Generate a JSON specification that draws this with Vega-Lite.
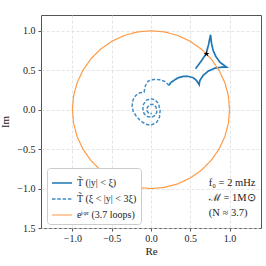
{
  "$schema": "https://vega.github.io/schema/vega-lite/v6.json",
  "width": 220,
  "height": 213,
  "autosize": {"type": "none"},
  "padding": {"left": 41, "top": 15, "right": 5, "bottom": 38},
  "config": {
    "font": "Liberation Serif",
    "view": {"stroke": "#555", "strokeWidth": 1},
    "axis": {
      "domain": false,
      "grid": true,
      "gridDash": [3, 2],
      "gridColor": "#dddddd",
      "gridWidth": 0.8,
      "tickColor": "#555",
      "tickSize": 3,
      "labelFontSize": 10,
      "labelColor": "#222",
      "labelFont": "Liberation Serif",
      "titleFont": "Liberation Serif",
      "titleFontSize": 11,
      "titleFontWeight": "normal",
      "titleColor": "#222"
    },
    "legend": {
      "orient": "none",
      "legendX": 6,
      "legendY": 153,
      "fillColor": "white",
      "strokeColor": "#cccccc",
      "cornerRadius": 3,
      "padding": 4,
      "symbolType": "stroke",
      "symbolSize": 400,
      "labelFontSize": 10,
      "labelFont": "Liberation Serif",
      "labelColor": "#222",
      "rowPadding": 0,
      "labelOffset": 4
    }
  },
  "datasets": {
    "curves": [
      {"s": "A", "i": 1, "x": 0.567, "y": 0.519},
      {"s": "A", "i": 2, "x": 0.638, "y": 0.615},
      {"s": "A", "i": 3, "x": 0.702, "y": 0.709},
      {"s": "A", "i": 4, "x": 0.732, "y": 0.823},
      {"s": "A", "i": 5, "x": 0.758, "y": 0.950},
      {"s": "A", "i": 6, "x": 0.771, "y": 0.836},
      {"s": "A", "i": 7, "x": 0.791, "y": 0.751},
      {"s": "A", "i": 8, "x": 0.825, "y": 0.675},
      {"s": "A", "i": 9, "x": 0.876, "y": 0.602},
      {"s": "A", "i": 10, "x": 0.962, "y": 0.539},
      {"s": "A", "i": 11, "x": 0.898, "y": 0.539},
      {"s": "A", "i": 12, "x": 0.813, "y": 0.526},
      {"s": "A", "i": 13, "x": 0.727, "y": 0.488},
      {"s": "A", "i": 14, "x": 0.664, "y": 0.434},
      {"s": "A", "i": 15, "x": 0.622, "y": 0.370},
      {"s": "A", "i": 16, "x": 0.613, "y": 0.316},
      {"s": "A", "i": 17, "x": 0.580, "y": 0.370},
      {"s": "A", "i": 18, "x": 0.536, "y": 0.405},
      {"s": "A", "i": 19, "x": 0.473, "y": 0.421},
      {"s": "A", "i": 20, "x": 0.409, "y": 0.421},
      {"s": "A", "i": 21, "x": 0.345, "y": 0.405},
      {"s": "A", "i": 22, "x": 0.290, "y": 0.370},
      {"s": "A", "i": 23, "x": 0.248, "y": 0.341},
      {"s": "A", "i": 24, "x": 0.231, "y": 0.307},
      {"s": "B", "i": 1, "x": 0.231, "y": 0.307},
      {"s": "B", "i": 2, "x": 0.176, "y": 0.358},
      {"s": "B", "i": 3, "x": 0.112, "y": 0.379},
      {"s": "B", "i": 4, "x": 0.027, "y": 0.383},
      {"s": "B", "i": 5, "x": -0.037, "y": 0.361},
      {"s": "B", "i": 6, "x": -0.070, "y": 0.307},
      {"s": "B", "i": 7, "x": -0.083, "y": 0.252},
      {"s": "B", "i": 8, "x": -0.088, "y": 0.222},
      {"s": "B", "i": 9, "x": -0.143, "y": 0.214},
      {"s": "B", "i": 10, "x": -0.194, "y": 0.180},
      {"s": "B", "i": 11, "x": -0.228, "y": 0.126},
      {"s": "B", "i": 12, "x": -0.241, "y": 0.053},
      {"s": "B", "i": 13, "x": -0.228, "y": -0.019},
      {"s": "B", "i": 14, "x": -0.194, "y": -0.074},
      {"s": "B", "i": 15, "x": -0.143, "y": -0.131},
      {"s": "B", "i": 16, "x": -0.092, "y": -0.169},
      {"s": "B", "i": 17, "x": -0.041, "y": -0.192},
      {"s": "B", "i": 18, "x": 0.010, "y": -0.192},
      {"s": "B", "i": 19, "x": 0.074, "y": -0.159},
      {"s": "B", "i": 20, "x": 0.108, "y": -0.095},
      {"s": "B", "i": 21, "x": 0.116, "y": -0.010},
      {"s": "B", "i": 22, "x": 0.096, "y": 0.075},
      {"s": "B", "i": 23, "x": 0.052, "y": 0.126},
      {"s": "B", "i": 24, "x": -0.011, "y": 0.138},
      {"s": "B", "i": 25, "x": -0.062, "y": 0.117},
      {"s": "B", "i": 26, "x": -0.096, "y": 0.066},
      {"s": "B", "i": 27, "x": -0.104, "y": 0.011},
      {"s": "B", "i": 28, "x": -0.088, "y": -0.052},
      {"s": "B", "i": 29, "x": -0.045, "y": -0.086},
      {"s": "B", "i": 30, "x": 0.010, "y": -0.095},
      {"s": "B", "i": 31, "x": 0.052, "y": -0.074},
      {"s": "B", "i": 32, "x": 0.074, "y": -0.032},
      {"s": "B", "i": 33, "x": 0.065, "y": 0.032},
      {"s": "B", "i": 34, "x": 0.032, "y": 0.066},
      {"s": "B", "i": 35, "x": -0.011, "y": 0.066},
      {"s": "B", "i": 36, "x": -0.045, "y": 0.032},
      {"s": "B", "i": 37, "x": -0.054, "y": -0.010},
      {"s": "B", "i": 38, "x": -0.032, "y": -0.044},
      {"s": "B", "i": 39, "x": 0.010, "y": -0.052},
      {"s": "C", "i": 1, "x": 1.0, "y": 0.0},
      {"s": "C", "i": 2, "x": 0.985, "y": 0.174},
      {"s": "C", "i": 3, "x": 0.940, "y": 0.342},
      {"s": "C", "i": 4, "x": 0.866, "y": 0.5},
      {"s": "C", "i": 5, "x": 0.766, "y": 0.643},
      {"s": "C", "i": 6, "x": 0.643, "y": 0.766},
      {"s": "C", "i": 7, "x": 0.5, "y": 0.866},
      {"s": "C", "i": 8, "x": 0.342, "y": 0.940},
      {"s": "C", "i": 9, "x": 0.174, "y": 0.985},
      {"s": "C", "i": 10, "x": 0.0, "y": 1.0},
      {"s": "C", "i": 11, "x": -0.174, "y": 0.985},
      {"s": "C", "i": 12, "x": -0.342, "y": 0.940},
      {"s": "C", "i": 13, "x": -0.5, "y": 0.866},
      {"s": "C", "i": 14, "x": -0.643, "y": 0.766},
      {"s": "C", "i": 15, "x": -0.766, "y": 0.643},
      {"s": "C", "i": 16, "x": -0.866, "y": 0.5},
      {"s": "C", "i": 17, "x": -0.940, "y": 0.342},
      {"s": "C", "i": 18, "x": -0.985, "y": 0.174},
      {"s": "C", "i": 19, "x": -1.0, "y": 0.0},
      {"s": "C", "i": 20, "x": -0.985, "y": -0.174},
      {"s": "C", "i": 21, "x": -0.940, "y": -0.342},
      {"s": "C", "i": 22, "x": -0.866, "y": -0.5},
      {"s": "C", "i": 23, "x": -0.766, "y": -0.643},
      {"s": "C", "i": 24, "x": -0.643, "y": -0.766},
      {"s": "C", "i": 25, "x": -0.5, "y": -0.866},
      {"s": "C", "i": 26, "x": -0.342, "y": -0.940},
      {"s": "C", "i": 27, "x": -0.174, "y": -0.985},
      {"s": "C", "i": 28, "x": 0.0, "y": -1.0},
      {"s": "C", "i": 29, "x": 0.174, "y": -0.985},
      {"s": "C", "i": 30, "x": 0.342, "y": -0.940},
      {"s": "C", "i": 31, "x": 0.5, "y": -0.866},
      {"s": "C", "i": 32, "x": 0.643, "y": -0.766},
      {"s": "C", "i": 33, "x": 0.766, "y": -0.643},
      {"s": "C", "i": 34, "x": 0.866, "y": -0.5},
      {"s": "C", "i": 35, "x": 0.940, "y": -0.342},
      {"s": "C", "i": 36, "x": 0.985, "y": -0.174},
      {"s": "C", "i": 37, "x": 1.0, "y": 0.0}
    ],
    "star": [{"x": 0.707, "y": 0.707}]
  },
  "layer": [
    {
      "data": {"name": "curves"},
      "mark": {"type": "line", "interpolate": "linear"},
      "encoding": {
        "x": {
          "field": "x",
          "type": "quantitative",
          "scale": {"domain": [-1.4, 1.4], "nice": false, "zero": false},
          "axis": {"values": [-1, -0.5, 0, 0.5, 1], "format": ".1f", "title": "Re", "labelPadding": 2, "titlePadding": 2}
        },
        "y": {
          "field": "y",
          "type": "quantitative",
          "scale": {"domain": [-1.5, 1.2], "nice": false, "zero": false},
          "axis": {
            "values": [-1.5, -1, -0.5, 0, 0.5, 1],
            "format": ".1f",
            "title": "Im",
            "labelPadding": 3,
            "titlePadding": 6,
            "labelExpr": "datum.value == -1.5 ? '1.5' : datum.label"
          }
        },
        "order": {"field": "i", "type": "quantitative"},
        "color": {
          "field": "s",
          "type": "nominal",
          "scale": {"domain": ["A", "B", "C"], "range": ["#1f77b4", "#3f8cc4", "#ff9a45"]},
          "legend": {
            "title": null,
            "labelExpr": "datum.value == 'A' ? 'T̃ (|y| < ξ)' : datum.value == 'B' ? 'T̃ (ξ < |y| < 3ξ)' : 'eⁱᵠʳ (3.7 loops)'"
          }
        },
        "strokeDash": {
          "field": "s",
          "type": "nominal",
          "scale": {"domain": ["A", "B", "C"], "range": [[1, 0], [3.5, 1.8], [1, 0]]},
          "legend": {
            "title": null,
            "labelExpr": "datum.value == 'A' ? 'T̃ (|y| < ξ)' : datum.value == 'B' ? 'T̃ (ξ < |y| < 3ξ)' : 'eⁱᵠʳ (3.7 loops)'"
          }
        },
        "strokeWidth": {
          "field": "s",
          "type": "nominal",
          "scale": {"domain": ["A", "B", "C"], "range": [1.7, 1.2, 1.0]},
          "legend": {
            "title": null,
            "labelExpr": "datum.value == 'A' ? 'T̃ (|y| < ξ)' : datum.value == 'B' ? 'T̃ (ξ < |y| < 3ξ)' : 'eⁱᵠʳ (3.7 loops)'"
          }
        }
      }
    },
    {
      "data": {"name": "star"},
      "mark": {
        "type": "point",
        "shape": "M0,-1L0.2245,-0.309L0.951,-0.309L0.363,0.118L0.588,0.809L0,0.382L-0.588,0.809L-0.363,0.118L-0.951,-0.309L-0.2245,-0.309Z",
        "filled": true,
        "color": "black",
        "opacity": 1,
        "size": 40
      },
      "encoding": {
        "x": {"field": "x", "type": "quantitative"},
        "y": {"field": "y", "type": "quantitative"}
      }
    },
    {
      "data": {"values": [{}]},
      "mark": {
        "type": "text",
        "align": "left",
        "baseline": "top",
        "font": "Liberation Serif",
        "fontSize": 10.5,
        "lineHeight": 15,
        "color": "#222"
      },
      "encoding": {
        "x": {"datum": 0.736},
        "y": {"datum": -0.86},
        "text": {"value": ["f₀ = 2 mHz", "ℳ = 1M⊙", "(N ≈ 3.7)"]}
      }
    }
  ]
}
